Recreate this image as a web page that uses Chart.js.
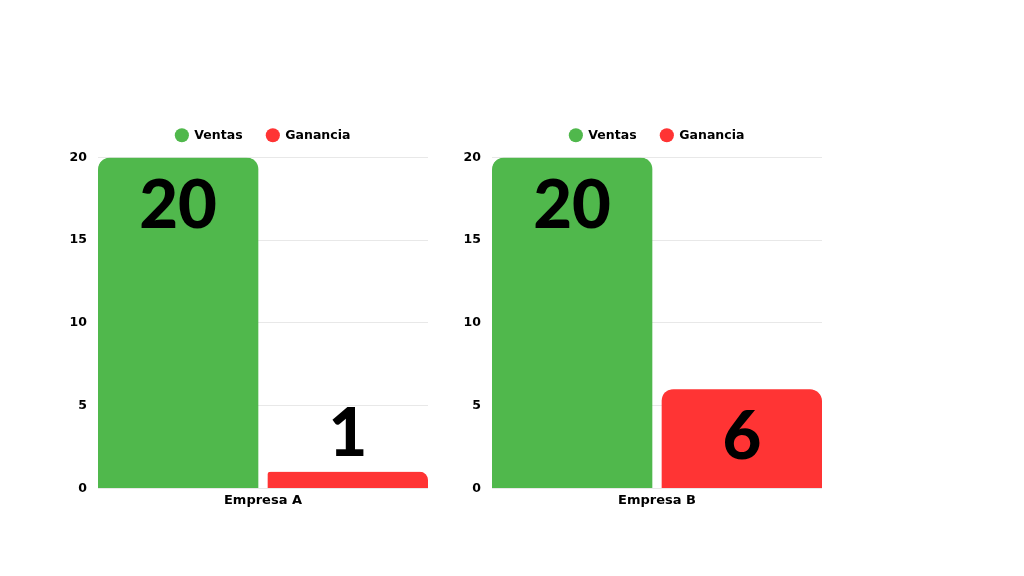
<!DOCTYPE html>
<html>
<head>
<meta charset="utf-8">
<script src="https://cdn.jsdelivr.net/npm/chart.js@4/dist/chart.umd.min.js"></script>
<style>
  html, body { margin: 0; padding: 0; background: #ffffff; }
  body { width: 1024px; height: 576px; position: relative; overflow: hidden; }
  .wrap { position: absolute; top: 0; width: 394px; height: 576px; }
  #wa { left: 42px; }
  #wb { left: 436px; }
</style>
</head>
<body>
<div class="wrap" id="wa"><canvas id="ca" width="394" height="576"></canvas></div>
<div class="wrap" id="wb"><canvas id="cb" width="394" height="576"></canvas></div>
<script>
const categoriesA = ['Empresa A'];
const categoriesB = ['Empresa B'];
const seriesNames = ['Ventas', 'Ganancia'];
const ventasA = [20];
const gananciaA = [1];
const ventasB = [20];
const gananciaB = [6];
const yTicks = [0, 5, 10, 15, 20];

const GREEN = '#50B84C';
const RED = '#FF3434';
const SMALL_FONT = "'DejaVu Sans', sans-serif";
const BIG_FONT = "Lato, 'DejaVu Sans', sans-serif";

const valueLabels = {
  id: 'valueLabels',
  afterDatasetsDraw(chart) {
    const ctx = chart.ctx;
    ctx.save();
    ctx.font = "900 67px " + BIG_FONT;
    ctx.fillStyle = '#000000';
    ctx.textAlign = 'center';
    ctx.textBaseline = 'alphabetic';
    chart.data.datasets.forEach((ds, i) => {
      const meta = chart.getDatasetMeta(i);
      meta.data.forEach((bar, j) => {
        const v = ds.data[j];
        const h = bar.base - bar.y;
        const inner = ds.innerSide === 'right' ? -2.5 : 2.5;
        const y = h > 60 ? bar.y + 70 : bar.y - 15.5;
        ctx.fillText(String(v), bar.x + inner, y);
      });
    });
    ctx.restore();
  }
};

function makeChart(id, cats, ventas, ganancia) {
  return new Chart(document.getElementById(id), {
    type: 'bar',
    data: {
      labels: cats,
      datasets: [
        { label: seriesNames[0], data: ventas, innerSide: 'right',
          backgroundColor: GREEN, borderColor: 'rgba(255,255,255,0)',
          borderWidth: { top: 0, right: 5, bottom: 0, left: 0 },
          borderRadius: { topLeft: 12, topRight: 17, bottomLeft: 0, bottomRight: 0 },
          borderSkipped: 'start' },
        { label: seriesNames[1], data: ganancia, innerSide: 'left',
          backgroundColor: RED, borderColor: 'rgba(255,255,255,0)',
          borderWidth: { top: 0, right: 0, bottom: 0, left: 5 },
          borderRadius: { topLeft: 17, topRight: 12, bottomLeft: 0, bottomRight: 0 },
          borderSkipped: 'start' }
      ]
    },
    options: {
      responsive: false,
      animation: false,
      devicePixelRatio: 1,
      layout: { padding: { top: 105, bottom: 64, left: 0, right: 8 } },
      datasets: { bar: { categoryPercentage: 1.0, barPercentage: 1.0 } },
      plugins: {
        legend: {
          position: 'top',
          fullSize: false,
          labels: {
            usePointStyle: true,
            pointStyle: 'circle',
            boxWidth: 12.5,
            boxHeight: 10,
            padding: 24,
            color: '#000000',
            font: { family: SMALL_FONT, size: 12.5, weight: 'bold' }
          }
        },
        subtitle: {
          display: true,
          text: ' ',
          weight: 100,
          position: 'top',
          color: 'rgba(0,0,0,0)',
          font: { size: 1, lineHeight: 1 },
          padding: { top: 0, bottom: 5 }
        },
        tooltip: { enabled: false }
      },
      scales: {
        x: {
          grid: { display: false, drawTicks: false },
          border: { display: false },
          ticks: { color: '#000000', padding: 4, font: { family: SMALL_FONT, size: 13, weight: 'bold' } }
        },
        y: {
          min: 0, max: 20,
          afterFit(scale) { scale.width = 56; },
          afterBuildTicks(scale) { scale.ticks = yTicks.map(v => ({ value: v })); },
          grid: { color: '#e8e8e8', drawTicks: false },
          border: { display: false },
          ticks: { color: '#000000', padding: 11, font: { family: SMALL_FONT, size: 12.5, weight: 'bold' } }
        }
      }
    },
    plugins: [valueLabels]
  });
}

makeChart('ca', categoriesA, ventasA, gananciaA);
makeChart('cb', categoriesB, ventasB, gananciaB);
</script>
</body>
</html>
